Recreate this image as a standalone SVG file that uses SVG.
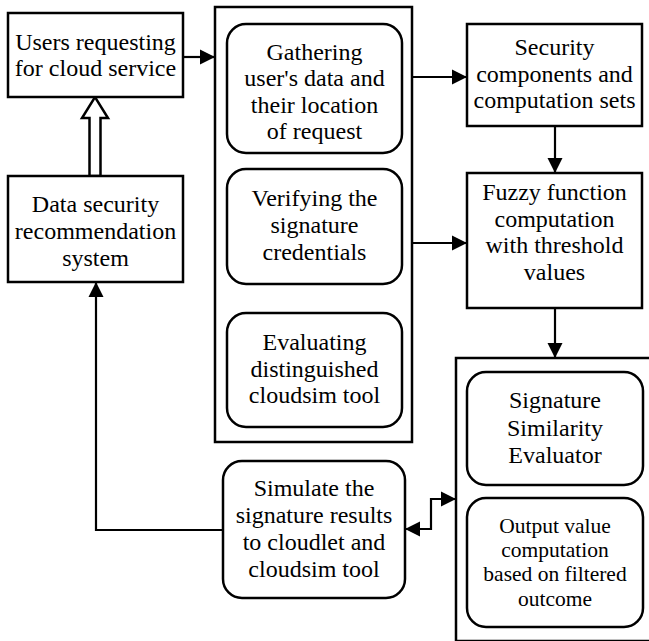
<svg xmlns="http://www.w3.org/2000/svg" width="649" height="641" viewBox="0 0 649 641" font-family="'Liberation Serif', Tinos, 'Times New Roman', Times, serif">
<style>
.box{fill:#fff;stroke:#000;stroke-width:2.5}
.rbox{fill:#fff;stroke:#000;stroke-width:2.5}
.ln{fill:none;stroke:#000;stroke-width:2.2}
text{font-family:'Liberation Serif',Tinos,'Times New Roman',Times,serif;font-size:24px;fill:#000;text-anchor:middle}
.sm{font-size:21.5px}
</style>
<defs>
<marker id="ah" markerUnits="userSpaceOnUse" markerWidth="16" markerHeight="16" viewBox="0 0 16 16" refX="15" refY="8" orient="auto-start-reverse">
<path d="M0,0.5 L15,8 L0,15.5 Z" fill="#000"/>
</marker>
</defs>
<rect width="649" height="641" fill="#fff"/>
<g id="container-left">
<rect x="215" y="7" width="197" height="435" class="box"/>
</g>
<g id="container-right">
<rect x="456" y="358" width="220" height="283" class="box"/>
</g>
<g id="connectors">
<line x1="183" y1="57" x2="215" y2="57" class="ln" marker-end="url(#ah)"/>
<line x1="412" y1="77" x2="467" y2="77" class="ln" marker-end="url(#ah)"/>
<line x1="412" y1="243" x2="467" y2="243" class="ln" marker-end="url(#ah)"/>
<line x1="555" y1="126" x2="555" y2="173" class="ln" marker-end="url(#ah)"/>
<line x1="555" y1="308" x2="555" y2="358" class="ln" marker-end="url(#ah)"/>
<polyline points="223,530 96,530 96,282" class="ln" marker-end="url(#ah)"/>
<polyline points="405,529 431,529 431,499 456,499" class="ln" marker-start="url(#ah)" marker-end="url(#ah)"/>
<polygon points="89.5,176 89.5,118 82,118 95,97 108,118 100.5,118 100.5,176" fill="#fff" stroke="#000" stroke-width="2.5"/>
</g>
<g id="users">
<rect x="8" y="13" width="175" height="84" class="box"/>
<text x="95.5" y="50" font-family="Liberation Serif">Users requesting</text>
<text x="95.5" y="76" font-family="Liberation Serif">for cloud service</text>
</g>
<g id="dsrs">
<rect x="8" y="176" width="175" height="106" class="box"/>
<text x="95.5" y="212">Data security</text>
<text x="95.5" y="239">recommendation</text>
<text x="95.5" y="266">system</text>
</g>
<g id="gathering">
<rect x="227" y="24" width="175" height="129" rx="19" class="rbox"/>
<text x="314.5" y="60">Gathering</text>
<text x="314.5" y="86">user's data and</text>
<text x="314.5" y="113">their location</text>
<text x="314.5" y="139">of request</text>
</g>
<g id="verifying">
<rect x="227" y="169" width="175" height="115" rx="19" class="rbox"/>
<text x="314.5" y="206">Verifying the</text>
<text x="314.5" y="233">signature</text>
<text x="314.5" y="260">credentials</text>
</g>
<g id="evaluating">
<rect x="227" y="313" width="175" height="114" rx="19" class="rbox"/>
<text x="314.5" y="350">Evaluating</text>
<text x="314.5" y="377">distinguished</text>
<text x="314.5" y="403">cloudsim tool</text>
</g>
<g id="security">
<rect x="467" y="24" width="175" height="102" class="box"/>
<text x="554.5" y="55">Security</text>
<text x="554.5" y="82">components and</text>
<text x="554.5" y="108">computation sets</text>
</g>
<g id="fuzzy">
<rect x="467" y="173" width="175" height="135" class="box"/>
<text x="554.5" y="200">Fuzzy function</text>
<text x="554.5" y="227">computation</text>
<text x="554.5" y="253">with threshold</text>
<text x="554.5" y="280">values</text>
</g>
<g id="signature">
<rect x="467" y="372" width="176" height="113" rx="19" class="rbox"/>
<text x="555" y="408">Signature</text>
<text x="555" y="436">Similarity</text>
<text x="555" y="463">Evaluator</text>
</g>
<g id="output">
<rect x="467" y="498" width="176" height="129" rx="19" class="rbox"/>
<text class="sm" x="555" y="533">Output value</text>
<text class="sm" x="555" y="557">computation</text>
<text class="sm" x="555" y="581">based on filtered</text>
<text class="sm" x="555" y="606">outcome</text>
</g>
<g id="simulate">
<rect x="223" y="461" width="182" height="137" rx="19" class="rbox"/>
<text x="314" y="496">Simulate the</text>
<text x="314" y="523">signature results</text>
<text x="314" y="550">to cloudlet and</text>
<text x="314" y="577">cloudsim tool</text>
</g>
</svg>
